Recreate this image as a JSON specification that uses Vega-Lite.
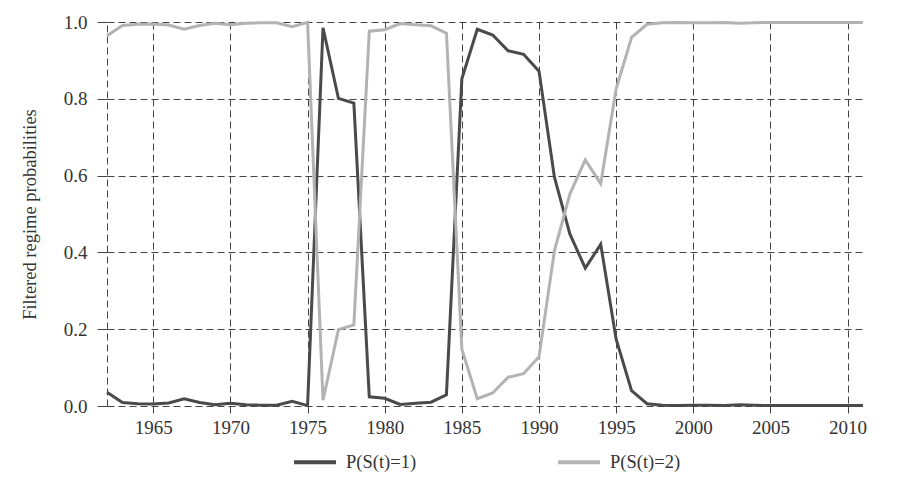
{
  "$schema": "https://vega.github.io/schema/vega-lite/v6.json",
  "autosize": {"type": "none"},
  "padding": {"left": 107, "top": 22, "right": 37, "bottom": 79},
  "width": 756,
  "height": 384,
  "background": "#ffffff",
  "config": {
    "view": {"stroke": null},
    "font": "Liberation Serif",
    "axis": {
      "labelFont": "Liberation Serif",
      "titleFont": "Liberation Serif",
      "labelColor": "#333333",
      "titleColor": "#333333",
      "gridColor": "#444444",
      "gridDash": [7, 4],
      "gridWidth": 1,
      "gridOpacity": 1,
      "domainColor": "#444444",
      "domainDash": [7, 4],
      "domainWidth": 1,
      "tickColor": "#444444",
      "tickWidth": 1
    },
    "legend": {
      "labelFont": "Liberation Serif",
      "labelColor": "#333333"
    }
  },
  "data": {
    "values": [
      {"year": 1962, "series": "P(S(t)=1)", "p": 0.036},
      {"year": 1963, "series": "P(S(t)=1)", "p": 0.009},
      {"year": 1964, "series": "P(S(t)=1)", "p": 0.006},
      {"year": 1965, "series": "P(S(t)=1)", "p": 0.005},
      {"year": 1966, "series": "P(S(t)=1)", "p": 0.008},
      {"year": 1967, "series": "P(S(t)=1)", "p": 0.019},
      {"year": 1968, "series": "P(S(t)=1)", "p": 0.009},
      {"year": 1969, "series": "P(S(t)=1)", "p": 0.003},
      {"year": 1970, "series": "P(S(t)=1)", "p": 0.007},
      {"year": 1971, "series": "P(S(t)=1)", "p": 0.003},
      {"year": 1972, "series": "P(S(t)=1)", "p": 0.002},
      {"year": 1973, "series": "P(S(t)=1)", "p": 0.002},
      {"year": 1974, "series": "P(S(t)=1)", "p": 0.012},
      {"year": 1975, "series": "P(S(t)=1)", "p": 0.001},
      {"year": 1976, "series": "P(S(t)=1)", "p": 0.985},
      {"year": 1977, "series": "P(S(t)=1)", "p": 0.801},
      {"year": 1978, "series": "P(S(t)=1)", "p": 0.789},
      {"year": 1979, "series": "P(S(t)=1)", "p": 0.024},
      {"year": 1980, "series": "P(S(t)=1)", "p": 0.020},
      {"year": 1981, "series": "P(S(t)=1)", "p": 0.004},
      {"year": 1982, "series": "P(S(t)=1)", "p": 0.007},
      {"year": 1983, "series": "P(S(t)=1)", "p": 0.010},
      {"year": 1984, "series": "P(S(t)=1)", "p": 0.029},
      {"year": 1985, "series": "P(S(t)=1)", "p": 0.852},
      {"year": 1986, "series": "P(S(t)=1)", "p": 0.981},
      {"year": 1987, "series": "P(S(t)=1)", "p": 0.966},
      {"year": 1988, "series": "P(S(t)=1)", "p": 0.925},
      {"year": 1989, "series": "P(S(t)=1)", "p": 0.916},
      {"year": 1990, "series": "P(S(t)=1)", "p": 0.872},
      {"year": 1991, "series": "P(S(t)=1)", "p": 0.596},
      {"year": 1992, "series": "P(S(t)=1)", "p": 0.448},
      {"year": 1993, "series": "P(S(t)=1)", "p": 0.359},
      {"year": 1994, "series": "P(S(t)=1)", "p": 0.421},
      {"year": 1995, "series": "P(S(t)=1)", "p": 0.174},
      {"year": 1996, "series": "P(S(t)=1)", "p": 0.040},
      {"year": 1997, "series": "P(S(t)=1)", "p": 0.006},
      {"year": 1998, "series": "P(S(t)=1)", "p": 0.002},
      {"year": 1999, "series": "P(S(t)=1)", "p": 0.001},
      {"year": 2000, "series": "P(S(t)=1)", "p": 0.002},
      {"year": 2001, "series": "P(S(t)=1)", "p": 0.002},
      {"year": 2002, "series": "P(S(t)=1)", "p": 0.001},
      {"year": 2003, "series": "P(S(t)=1)", "p": 0.003},
      {"year": 2004, "series": "P(S(t)=1)", "p": 0.002},
      {"year": 2005, "series": "P(S(t)=1)", "p": 0.001},
      {"year": 2006, "series": "P(S(t)=1)", "p": 0.001},
      {"year": 2007, "series": "P(S(t)=1)", "p": 0.001},
      {"year": 2008, "series": "P(S(t)=1)", "p": 0.001},
      {"year": 2009, "series": "P(S(t)=1)", "p": 0.001},
      {"year": 2010, "series": "P(S(t)=1)", "p": 0.001},
      {"year": 2011, "series": "P(S(t)=1)", "p": 0.001},
      {"year": 1962, "series": "P(S(t)=2)", "p": 0.964},
      {"year": 1963, "series": "P(S(t)=2)", "p": 0.991},
      {"year": 1964, "series": "P(S(t)=2)", "p": 0.994},
      {"year": 1965, "series": "P(S(t)=2)", "p": 0.995},
      {"year": 1966, "series": "P(S(t)=2)", "p": 0.992},
      {"year": 1967, "series": "P(S(t)=2)", "p": 0.981},
      {"year": 1968, "series": "P(S(t)=2)", "p": 0.991},
      {"year": 1969, "series": "P(S(t)=2)", "p": 0.997},
      {"year": 1970, "series": "P(S(t)=2)", "p": 0.993},
      {"year": 1971, "series": "P(S(t)=2)", "p": 0.997},
      {"year": 1972, "series": "P(S(t)=2)", "p": 0.998},
      {"year": 1973, "series": "P(S(t)=2)", "p": 0.998},
      {"year": 1974, "series": "P(S(t)=2)", "p": 0.988},
      {"year": 1975, "series": "P(S(t)=2)", "p": 0.999},
      {"year": 1976, "series": "P(S(t)=2)", "p": 0.015},
      {"year": 1977, "series": "P(S(t)=2)", "p": 0.199},
      {"year": 1978, "series": "P(S(t)=2)", "p": 0.211},
      {"year": 1979, "series": "P(S(t)=2)", "p": 0.976},
      {"year": 1980, "series": "P(S(t)=2)", "p": 0.980},
      {"year": 1981, "series": "P(S(t)=2)", "p": 0.996},
      {"year": 1982, "series": "P(S(t)=2)", "p": 0.993},
      {"year": 1983, "series": "P(S(t)=2)", "p": 0.990},
      {"year": 1984, "series": "P(S(t)=2)", "p": 0.971},
      {"year": 1985, "series": "P(S(t)=2)", "p": 0.148},
      {"year": 1986, "series": "P(S(t)=2)", "p": 0.019},
      {"year": 1987, "series": "P(S(t)=2)", "p": 0.034},
      {"year": 1988, "series": "P(S(t)=2)", "p": 0.075},
      {"year": 1989, "series": "P(S(t)=2)", "p": 0.084},
      {"year": 1990, "series": "P(S(t)=2)", "p": 0.128},
      {"year": 1991, "series": "P(S(t)=2)", "p": 0.404},
      {"year": 1992, "series": "P(S(t)=2)", "p": 0.552},
      {"year": 1993, "series": "P(S(t)=2)", "p": 0.641},
      {"year": 1994, "series": "P(S(t)=2)", "p": 0.579},
      {"year": 1995, "series": "P(S(t)=2)", "p": 0.826},
      {"year": 1996, "series": "P(S(t)=2)", "p": 0.960},
      {"year": 1997, "series": "P(S(t)=2)", "p": 0.994},
      {"year": 1998, "series": "P(S(t)=2)", "p": 0.998},
      {"year": 1999, "series": "P(S(t)=2)", "p": 0.999},
      {"year": 2000, "series": "P(S(t)=2)", "p": 0.998},
      {"year": 2001, "series": "P(S(t)=2)", "p": 0.998},
      {"year": 2002, "series": "P(S(t)=2)", "p": 0.999},
      {"year": 2003, "series": "P(S(t)=2)", "p": 0.997},
      {"year": 2004, "series": "P(S(t)=2)", "p": 0.998},
      {"year": 2005, "series": "P(S(t)=2)", "p": 0.999},
      {"year": 2006, "series": "P(S(t)=2)", "p": 0.999},
      {"year": 2007, "series": "P(S(t)=2)", "p": 0.999},
      {"year": 2008, "series": "P(S(t)=2)", "p": 0.999},
      {"year": 2009, "series": "P(S(t)=2)", "p": 0.999},
      {"year": 2010, "series": "P(S(t)=2)", "p": 0.999},
      {"year": 2011, "series": "P(S(t)=2)", "p": 0.999}
    ]
  },
  "mark": {"type": "line", "strokeWidth": 3, "strokeJoin": "miter"},
  "encoding": {
    "x": {
      "field": "year",
      "type": "quantitative",
      "scale": {"domain": [1962, 2011], "nice": false, "zero": false},
      "axis": {
        "title": null,
        "values": [1965, 1970, 1975, 1980, 1985, 1990, 1995, 2000, 2005, 2010],
        "format": "d",
        "labelFontSize": 19,
        "tickSize": 7,
        "labelPadding": 5,
        "domain": false
      }
    },
    "y": {
      "field": "p",
      "type": "quantitative",
      "scale": {"domain": [0, 1], "nice": false},
      "axis": {
        "title": "Filtered regime probabilities",
        "titleFontSize": 18.5,
        "titleFontWeight": "normal",
        "titlePadding": 24,
        "values": [0, 0.2, 0.4, 0.6, 0.8, 1.0],
        "format": ".1f",
        "labelFontSize": 19,
        "tickSize": 10,
        "labelPadding": 10
      }
    },
    "color": {
      "field": "series",
      "type": "nominal",
      "scale": {"domain": ["P(S(t)=1)", "P(S(t)=2)"], "range": ["#4a4a4a", "#b3b3b3"]},
      "legend": {
        "title": null,
        "orient": "none",
        "direction": "horizontal",
        "legendX": 185,
        "legendY": 417,
        "symbolType": "stroke",
        "symbolSize": 1764,
        "symbolStrokeWidth": 4,
        "labelFontSize": 18.5,
        "labelOffset": 8,
        "columnPadding": 133
      }
    }
  }
}
